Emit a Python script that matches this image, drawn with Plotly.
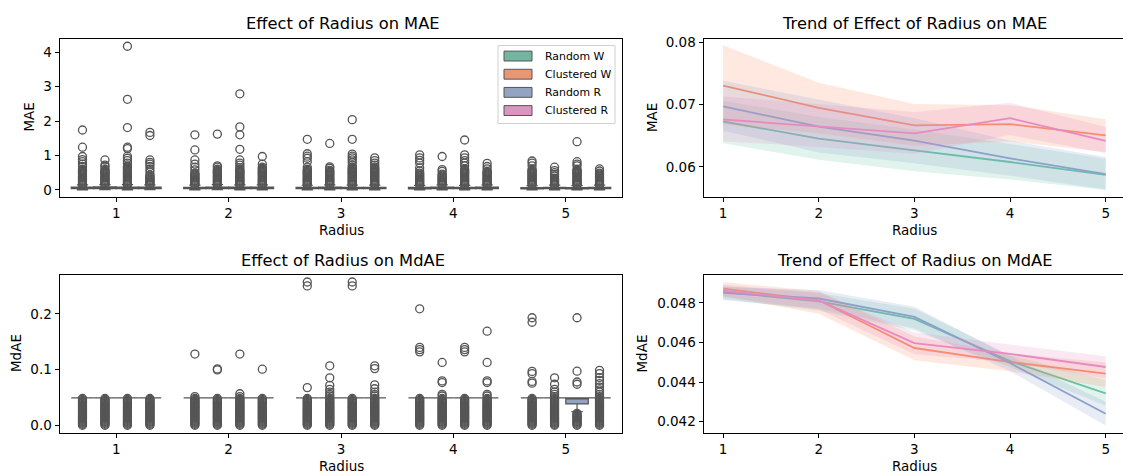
import colorsys
import plotly.graph_objects as go

# ---------------- data ----------------
radius = [1, 2, 3, 4, 5]
groups = ["Random W", "Clustered W", "Random R", "Clustered R"]
set2 = ["#66c2a5", "#fc8d62", "#8da0cb", "#e78ac3"]

# MAE box statistics per group (one value per radius)
mae_q1 = {"Random W": [0.036, 0.035, 0.034, 0.033, 0.032], "Clustered W": [0.038, 0.037, 0.036, 0.036, 0.035],
          "Random R": [0.037, 0.036, 0.035, 0.034, 0.033], "Clustered R": [0.037, 0.037, 0.036, 0.037, 0.035]}
mae_med = {"Random W": [0.056, 0.054, 0.053, 0.051, 0.050], "Clustered W": [0.060, 0.058, 0.056, 0.056, 0.055],
           "Random R": [0.058, 0.056, 0.054, 0.052, 0.050], "Clustered R": [0.057, 0.056, 0.055, 0.057, 0.054]}
mae_q3 = {"Random W": [0.080, 0.077, 0.075, 0.073, 0.071], "Clustered W": [0.086, 0.083, 0.080, 0.080, 0.078],
          "Random R": [0.083, 0.080, 0.077, 0.074, 0.071], "Clustered R": [0.081, 0.080, 0.078, 0.081, 0.077]}
mae_lo = {"Random W": [0.004, 0.004, 0.003, 0.003, 0.003], "Clustered W": [0.005, 0.005, 0.004, 0.004, 0.004],
          "Random R": [0.004, 0.004, 0.004, 0.003, 0.003], "Clustered R": [0.005, 0.004, 0.004, 0.004, 0.004]}
mae_hi = {"Random W": [0.146, 0.140, 0.136, 0.132, 0.128], "Clustered W": [0.157, 0.152, 0.146, 0.146, 0.142],
          "Random R": [0.152, 0.146, 0.140, 0.134, 0.128], "Clustered R": [0.147, 0.146, 0.141, 0.147, 0.140]}

# MAE outliers: dense part (readings of the solid columns, cut at each box's top) + individual outliers
MAE_DENSE = [0.14, 0.17, 0.20, 0.23, 0.26, 0.28, 0.31, 0.34, 0.37, 0.40,
             0.43, 0.46, 0.49, 0.51, 0.54, 0.57, 0.60, 0.63, 0.66, 0.69]
mae_dense_top = {"Random W": [0.62, 0.50, 0.60, 0.50, 0.62], "Clustered W": [0.62, 0.60, 0.58, 0.47, 0.35],
                 "Random R": [0.70, 0.60, 0.66, 0.62, 0.62], "Clustered R": [0.45, 0.68, 0.66, 0.55, 0.50]}
mae_extra = {
    "Random W": [[0.68, 0.75, 0.82, 0.88, 0.97, 1.24, 1.74], [0.58, 0.66, 0.75, 0.87, 1.16, 1.60],
                 [0.66, 0.82, 0.92, 0.98, 1.05, 1.47], [0.55, 0.64, 0.78, 0.86, 0.93, 1.02], [0.70, 0.78, 0.84]],
    "Clustered W": [[0.68, 0.72, 0.87], [0.66, 0.70, 1.62], [0.63, 0.67, 1.35], [0.54, 0.59, 0.97],
                    [0.40, 0.45, 0.50, 0.56, 0.66]],
    "Random R": [[0.78, 0.85, 0.92, 0.98, 1.20, 1.24, 1.81, 2.63, 4.17], [0.65, 0.72, 0.78, 0.87, 1.18, 1.60, 1.83, 2.79],
                 [0.72, 0.80, 0.87, 0.93, 0.98, 1.04, 1.47, 2.04], [0.70, 0.78, 0.85, 0.93, 1.02, 1.45],
                 [0.70, 0.75, 0.82, 1.40]],
    "Clustered R": [[0.52, 0.60, 0.68, 0.75, 0.80, 0.87, 1.58, 1.67], [0.75, 0.97], [0.72, 0.78, 0.85, 0.93],
                    [0.61, 0.68, 0.77], [0.55, 0.61]],
}

# MdAE box statistics
mdae_q1 = {"Random W": [0.0496, 0.0496, 0.0496, 0.0496, 0.0496], "Clustered W": [0.0496, 0.0496, 0.0496, 0.0496, 0.0496],
           "Random R": [0.0496, 0.0496, 0.0496, 0.0496, 0.0388], "Clustered R": [0.0496, 0.0496, 0.0496, 0.0496, 0.0496]}
mdae_med = {"Random W": [0.0496, 0.0496, 0.0496, 0.0496, 0.0496], "Clustered W": [0.0496, 0.0496, 0.0496, 0.0496, 0.0496],
            "Random R": [0.0496, 0.0496, 0.0496, 0.0496, 0.0496], "Clustered R": [0.0496, 0.0496, 0.0496, 0.0496, 0.0496]}
mdae_q3 = {"Random W": [0.0496, 0.0496, 0.0496, 0.0496, 0.0496], "Clustered W": [0.0496, 0.0496, 0.0496, 0.0496, 0.0496],
           "Random R": [0.0496, 0.0496, 0.0496, 0.0496, 0.0496], "Clustered R": [0.0496, 0.0496, 0.0496, 0.0496, 0.0496]}
mdae_lo = {"Random W": [0.0496, 0.0496, 0.0496, 0.0496, 0.0496], "Clustered W": [0.0496, 0.0496, 0.0496, 0.0496, 0.0496],
           "Random R": [0.0496, 0.0496, 0.0496, 0.0496, 0.0250], "Clustered R": [0.0496, 0.0496, 0.0496, 0.0496, 0.0496]}
mdae_hi = {"Random W": [0.0496, 0.0496, 0.0496, 0.0496, 0.0496], "Clustered W": [0.0496, 0.0496, 0.0496, 0.0496, 0.0496],
           "Random R": [0.0496, 0.0496, 0.0496, 0.0496, 0.0496], "Clustered R": [0.0496, 0.0496, 0.0496, 0.0496, 0.0496]}

MDAE_DENSE = [0.0005, 0.0023, 0.0041, 0.0058, 0.0076, 0.0094, 0.0112, 0.0130, 0.0147, 0.0165,
              0.0183, 0.0201, 0.0219, 0.0236, 0.0254, 0.0272, 0.0290, 0.0308, 0.0325, 0.0343,
              0.0361, 0.0379, 0.0397, 0.0414, 0.0432, 0.0450, 0.0468, 0.0486]
mdae_dense_top = {"Random W": [0.049, 0.049, 0.049, 0.049, 0.049], "Clustered W": [0.049, 0.049, 0.049, 0.049, 0.049],
                  "Random R": [0.049, 0.049, 0.049, 0.049, 0.022], "Clustered R": [0.049, 0.049, 0.049, 0.049, 0.049]}
mdae_extra = {
    "Random W": [[], [0.052, 0.128], [0.068, 0.250, 0.257], [0.132, 0.136, 0.140, 0.209],
                 [0.076, 0.079, 0.093, 0.097, 0.185, 0.193]],
    "Clustered W": [[], [0.0997, 0.1015], [0.053, 0.056, 0.060, 0.065, 0.072, 0.0855, 0.107],
                    [0.053, 0.056, 0.077, 0.080, 0.113], [0.052, 0.056, 0.060, 0.065, 0.074, 0.0856]],
    "Random R": [[], [0.052, 0.057, 0.128], [0.250, 0.257], [0.132, 0.136, 0.140], [0.074, 0.078, 0.0974, 0.193]],
    "Clustered R": [[], [0.101], [0.053, 0.056, 0.060, 0.066, 0.073, 0.102, 0.107],
                    [0.053, 0.056, 0.077, 0.080, 0.113, 0.169],
                    [0.052, 0.056, 0.060, 0.064, 0.069, 0.075, 0.081, 0.086, 0.093, 0.099]],
}

# Trend (mean with confidence band)
mae_mean = {"Random W": [0.06728, 0.06454, 0.06264, 0.06079, 0.05873],
            "Clustered W": [0.07303, 0.06945, 0.06665, 0.06686, 0.06507],
            "Random R": [0.06971, 0.06644, 0.06422, 0.06137, 0.05884],
            "Clustered R": [0.06760, 0.06649, 0.06538, 0.06781, 0.06417]}
mae_low = {"Random W": [0.0638, 0.06116, 0.05931, 0.0580, 0.0563],
           "Clustered W": [0.0668, 0.0654, 0.0634, 0.0641, 0.0624],
           "Random R": [0.0658, 0.0623, 0.0606, 0.0586, 0.0564],
           "Clustered R": [0.0641, 0.0632, 0.0621, 0.0651, 0.0622]}
mae_up = {"Random W": [0.0706, 0.0680, 0.0660, 0.0637, 0.0613],
          "Clustered W": [0.0795, 0.0735, 0.0701, 0.0699, 0.06765],
          "Random R": [0.0738, 0.0708, 0.0678, 0.0642, 0.0616],
          "Clustered R": [0.0713, 0.0700, 0.0688, 0.0703, 0.0664]}

mdae_mean = {"Random W": [0.04855, 0.04808, 0.04719, 0.04506, 0.04343],
             "Clustered W": [0.04872, 0.04813, 0.04572, 0.04501, 0.04443],
             "Random R": [0.04850, 0.04822, 0.04729, 0.04496, 0.04240],
             "Clustered R": [0.04862, 0.04812, 0.04597, 0.04542, 0.04476]}
mdae_low = {"Random W": [0.04820, 0.04760, 0.04660, 0.04475, 0.04280],
            "Clustered W": [0.04835, 0.04745, 0.04510, 0.04455, 0.04375],
            "Random R": [0.04815, 0.04770, 0.04670, 0.04455, 0.04180],
            "Clustered R": [0.04830, 0.04768, 0.04540, 0.04500, 0.04418]}
mdae_up = {"Random W": [0.04885, 0.04850, 0.04770, 0.04535, 0.04410],
           "Clustered W": [0.04905, 0.04860, 0.04630, 0.04545, 0.04500],
           "Random R": [0.04880, 0.04865, 0.04780, 0.04530, 0.04300],
           "Clustered R": [0.04893, 0.04852, 0.04650, 0.04590, 0.04530]}

# ---------------- helpers ----------------
W, H = 1123, 476
FONT = "DejaVu Sans"
EDGE = "#555555"
TITLE_SIZE = 16.3
LABEL_SIZE = 13.5
LEGEND_SIZE = 10.9


def px(x):
    return x / W


def py(y):
    return 1 - y / H


def desat(hexc, prop=0.75):
    r, g, b = (int(hexc[i:i + 2], 16) / 255 for i in (1, 3, 5))
    h, l, s = colorsys.rgb_to_hls(r, g, b)
    r, g, b = colorsys.hls_to_rgb(h, l, s * prop)
    return "#%02x%02x%02x" % (round(r * 255), round(g * 255), round(b * 255))


def rgba(hexc, a):
    r, g, b = (int(hexc[i:i + 2], 16) for i in (1, 3, 5))
    return f"rgba({r},{g},{b},{a})"


box_colors = [desat(c) for c in set2]
n = len(groups)
dodge = [(i - (n - 1) / 2) * 0.8 / n for i in range(n)]

fig = go.Figure()


def add_boxes(xa, ya, q1, med, q3, lo, hi, dense, dtop, extra):
    for gi, g in enumerate(groups):
        xpos = [r + dodge[gi] for r in radius]
        fig.add_trace(go.Box(
            x=xpos, q1=q1[g], median=med[g], q3=q3[g], lowerfence=lo[g], upperfence=hi[g],
            width=0.8 / n, fillcolor=box_colors[gi], line=dict(color=EDGE, width=1.2),
            whiskerwidth=0.5, boxpoints=False, showlegend=False, xaxis=xa, yaxis=ya, hoverinfo="skip"))
    for gi, g in enumerate(groups):
        xs, ys = [], []
        for ri, r in enumerate(radius):
            vals = [v for v in dense if v <= dtop[g][ri]] + extra[g][ri]
            xs += [r + dodge[gi]] * len(vals)
            ys += vals
        fig.add_trace(go.Scatter(
            x=xs, y=ys, mode="markers", showlegend=False, xaxis=xa, yaxis=ya, hoverinfo="skip",
            marker=dict(symbol="circle", size=8, color="rgba(0,0,0,0)", line=dict(color=EDGE, width=1.3))))


def add_trend(xa, ya, mean, low, up):
    for gi, g in enumerate(groups):
        fig.add_trace(go.Scatter(
            x=radius + radius[::-1], y=up[g] + low[g][::-1], fill="toself", fillcolor=rgba(set2[gi], 0.2),
            line=dict(width=0), mode="lines", showlegend=False, xaxis=xa, yaxis=ya, hoverinfo="skip"))
        fig.add_trace(go.Scatter(
            x=radius, y=mean[g], mode="lines", line=dict(color=set2[gi], width=1.8),
            showlegend=False, xaxis=xa, yaxis=ya, hoverinfo="skip"))


add_boxes("x", "y", mae_q1, mae_med, mae_q3, mae_lo, mae_hi, MAE_DENSE, mae_dense_top, mae_extra)
add_trend("x2", "y2", mae_mean, mae_low, mae_up)
add_boxes("x3", "y3", mdae_q1, mdae_med, mdae_q3, mdae_lo, mdae_hi, MDAE_DENSE, mdae_dense_top, mdae_extra)
add_trend("x4", "y4", mdae_mean, mdae_low, mdae_up)

tickfont = dict(family=FONT, size=LABEL_SIZE, color="black")
common = dict(showgrid=False, zeroline=False, showline=True, linecolor="black", linewidth=1,
              ticks="outside", ticklen=4.5, tickwidth=1, tickcolor="black", tickfont=tickfont)

L_dom = [px(60), px(622)]
R_dom = [px(704), 1.0]
T_dom = [py(194), py(34)]
B_dom = [py(433), py(273)]

fig.update_layout(
    width=W, height=H, margin=dict(l=0, r=0, t=0, b=0),
    paper_bgcolor="white", plot_bgcolor="white", hovermode=False,
    font=dict(family=FONT, color="black"),
    xaxis=dict(domain=L_dom, range=[0.5, 5.5], tickvals=radius, anchor="y", mirror=True, **common),
    yaxis=dict(domain=T_dom, range=[-0.192, 4.393], tickvals=[0, 1, 2, 3, 4], anchor="x", mirror=True, **common),
    xaxis2=dict(domain=R_dom, range=[0.8, 5.181], tickvals=radius, anchor="y2", mirror=True, **common),
    yaxis2=dict(domain=T_dom, range=[0.05525, 0.08057], tickvals=[0.06, 0.07, 0.08], tickformat=".2f",
                anchor="x2", **common),
    xaxis3=dict(domain=L_dom, range=[0.5, 5.5], tickvals=radius, anchor="y3", mirror=True, **common),
    yaxis3=dict(domain=B_dom, range=[-0.0124, 0.2703], tickvals=[0.0, 0.1, 0.2], tickformat=".1f",
                anchor="x3", mirror=True, **common),
    xaxis4=dict(domain=R_dom, range=[0.8, 5.181], tickvals=radius, anchor="y4", mirror=True, **common),
    yaxis4=dict(domain=B_dom, range=[0.04145, 0.04943], tickvals=[0.042, 0.044, 0.046, 0.048],
                tickformat=".3f", anchor="x4", **common),
)

ann = []


def text(x, y, s, size, angle=0, xanchor="center"):
    ann.append(dict(x=px(x), y=py(y), xref="paper", yref="paper", text=s, showarrow=False,
                    xanchor=xanchor, yanchor="middle", textangle=angle,
                    font=dict(family=FONT, size=size, color="black")))


# titles
text(343, 19, "Effect of Radius on MAE", TITLE_SIZE)
text(914.5, 19, "Trend of Effect of Radius on MAE", TITLE_SIZE)
text(343, 259, "Effect of Radius on MdAE", TITLE_SIZE)
text(914.5, 259, "Trend of Effect of Radius on MdAE", TITLE_SIZE)
# axis labels
text(341, 228, "Radius", LABEL_SIZE)
text(914.5, 228, "Radius", LABEL_SIZE)
text(341, 467, "Radius", LABEL_SIZE)
text(914.5, 467, "Radius", LABEL_SIZE)
text(29, 114, "MAE", LABEL_SIZE, angle=-90)
text(651.5, 114, "MAE", LABEL_SIZE, angle=-90)
text(15.5, 353, "MdAE", LABEL_SIZE, angle=-90)
text(642, 353, "MdAE", LABEL_SIZE, angle=-90)

# legend (upper right of the first panel)
shapes = [dict(type="rect", xref="paper", yref="paper", x0=px(498), x1=px(615), y0=py(120), y1=py(41),
               line=dict(color="#d0d0d0", width=1), fillcolor="rgba(255,255,255,0.8)", layer="above")]
for gi, g in enumerate(groups):
    cy = 51.7 + gi * 18.4
    shapes.append(dict(type="rect", xref="paper", yref="paper", x0=px(504), x1=px(532),
                       y0=py(cy + 5), y1=py(cy - 5), fillcolor=box_colors[gi],
                       line=dict(color=EDGE, width=1), layer="above"))
    text(543, cy, g, LEGEND_SIZE, xanchor="left")

fig.update_layout(annotations=ann, shapes=shapes)
fig.write_html("out.html", config={"displayModeBar": False},
               post_script="document.body.style.margin='0px';")
